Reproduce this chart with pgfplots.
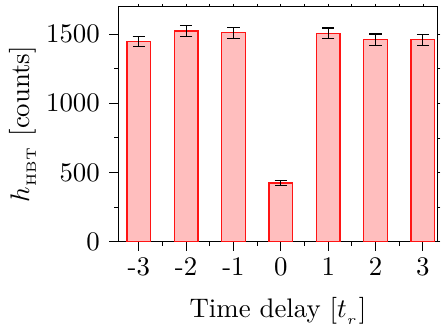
\documentclass[border=0pt]{standalone}
\usepackage{pgfplots}
\pgfplotsset{compat=1.18}
\definecolor{barfill}{RGB}{255,190,190}
\definecolor{baredge}{RGB}{255,20,20}
\begin{document}
\begin{tikzpicture}
\begin{axis}[
  scale only axis,
  width=119pt, height=87.7pt,
  xmin=-3.43, xmax=3.31,
  ymin=0, ymax=1700,
  xtick={-3,-2,-1,0,1,2,3},
  xticklabels={-3,-2,-1,0,1,2,3},
  minor xtick={-2.5,-1.5,-0.5,0.5,1.5,2.5},
  ytick={0,500,1000,1500},
  minor ytick={250,750,1250},
  /pgf/number format/1000 sep={},
  tick align=outside,
  xtick pos=bottom, ytick pos=left,
  major tick length=3.4pt,
  minor tick length=1.5pt,
  tick style={black, line width=0.4pt},
  xticklabel style={yshift=1pt},
  xlabel={Time delay $[t_{_r}]$},
  ylabel={$h_{_\mathrm{HBT}}$ [counts]},
  ylabel shift=-3pt,
  xlabel shift=1pt,
  axis line style={black, line width=0.4pt},
  clip=false,
]
\addplot[ybar, bar width=0.5, fill=barfill, draw=baredge, line width=0.5pt,
  error bars/.cd, y dir=both, y explicit,
  error bar style={black, line width=0.4pt},
  error mark options={rotate=90, mark size=2.3pt, black, line width=0.4pt}]
  coordinates {
  (-3,1449) +- (0,37)
  (-2,1522) +- (0,40)
  (-1,1510) +- (0,39)
  (0,423) +- (0,19)
  (1,1505) +- (0,39)
  (2,1461) +- (0,40)
  (3,1460) +- (0,40)
};
\path (rel axis cs:1,1) ++(2pt,2.4pt);
\end{axis}
\begin{scope}[overlay]
\begin{axis}[
  scale only axis,
  width=119pt, height=87.7pt,
  xmin=-3.43, xmax=3.31,
  ymin=0, ymax=1700,
  xtick={-3,-2.5,...,3},
  ytick={0,250,...,1500},
  xticklabels={}, yticklabels={},
  tick align=outside,
  xtick pos=top, ytick pos=right,
  major tick length=1pt,
  tick style={black, line width=0.3pt},
  axis line style={draw=none},
]
\end{axis}
\end{scope}
\end{tikzpicture}
\end{document}
